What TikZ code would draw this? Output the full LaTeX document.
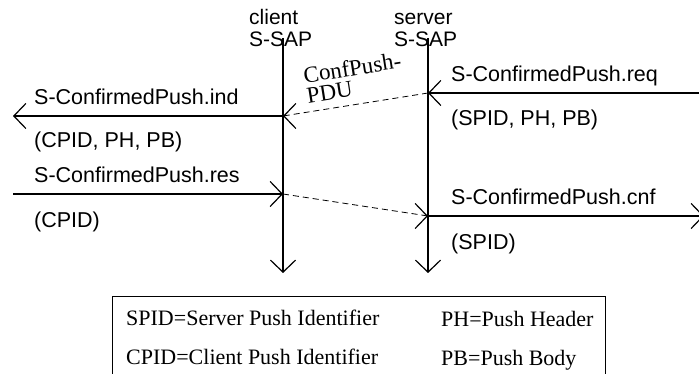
\documentclass[tikz,border=0pt]{standalone}
\usepackage{fontspec}
\setmainfont{Liberation Serif}
\newfontfamily\lsans{Liberation Sans}
\usetikzlibrary{arrows.meta}
\begin{document}
\begin{tikzpicture}[x=1pt,y=-1pt,
  lbl/.style={font=\lsans\fontsize{21.5}{22}\selectfont, inner sep=0pt, anchor=base west},
  hdr/.style={font=\lsans\fontsize{21}{21.7}\selectfont, inner sep=0pt, anchor=south west, align=left},
  leg/.style={font=\fontsize{22}{24}\selectfont, inner sep=0pt, anchor=base west},
  tipc/.style={-{Straight Barb[length=12pt,width=25pt,line width=1.2pt]}},
  msg/.style={line width=1.2pt, tipc},
  pdu/.style={line width=0.8pt, dash pattern=on 6pt off 4pt, tipc},
]
\useasboundingbox (0,0) rectangle (699,374);

% headers
\node[hdr] (cl) at (249,47) {client\\S-SAP};
\node[hdr] (sv) at (394,47) {server\\S-SAP};

% coordinates
\coordinate (ctop) at (283,38);
\coordinate (cbot) at (283,273);
\coordinate (stop) at (428,38);
\coordinate (sbot) at (428,273);
\coordinate (c1) at (283,116);
\coordinate (s1) at (428,93);
\coordinate (c2) at (283,194);
\coordinate (s2) at (428,216);
\coordinate (lind) at (13,116);
\coordinate (rreq) at (706,93);
\coordinate (lres) at (13,194);
\coordinate (rcnf) at (704,216);

% lifelines
\draw[msg] (ctop) -- (cbot);
\draw[msg] (stop) -- (sbot);

% primitives
\draw[msg] (c1) -- (lind);
\draw[msg] (rreq) -- (s1);
\draw[msg] (lres) -- (c2);
\draw[msg] (s2) -- (rcnf);

% PDUs (arrow heads horizontal)
\draw[pdu] (s1) -- ([xshift=0.05pt]c1) -- (c1);
\draw[pdu] (c2) -- ([xshift=-0.05pt]s2) -- (s2);

% labels
\node[lbl] (ind) at (34,105) {S-ConfirmedPush.ind};
\node[lbl] (indp) at (34,148) {(CPID, PH, PB)};
\node[lbl] (req) at (451,82) {S-ConfirmedPush.req};
\node[lbl] (reqp) at (451,126) {(SPID, PH, PB)};
\node[lbl] (res) at (34,183) {S-ConfirmedPush.res};
\node[lbl] (resp) at (34,228) {(CPID)};
\node[lbl] (cnf) at (451,205) {S-ConfirmedPush.cnf};
\node[lbl] (cnfp) at (451,250) {(SPID)};

\node[font=\fontsize{23}{20.5}\selectfont, align=left, inner sep=0pt, rotate=9, anchor=south west] (pdulbl) at (308,104) {ConfPush-\\PDU};

% legend
\node[draw, line width=1pt, minimum width=492.3pt, minimum height=84pt, inner sep=0pt] (legend) at (358.85,338) {};
\node[leg] (l1) at (126,325) {SPID=Server Push Identifier};
\node[leg] (l2) at (126,364) {CPID=Client Push Identifier};
\node[leg] (l3) at (441,326) {PH=Push Header};
\node[leg] (l4) at (441,365) {PB=Push Body};
\end{tikzpicture}
\end{document}
